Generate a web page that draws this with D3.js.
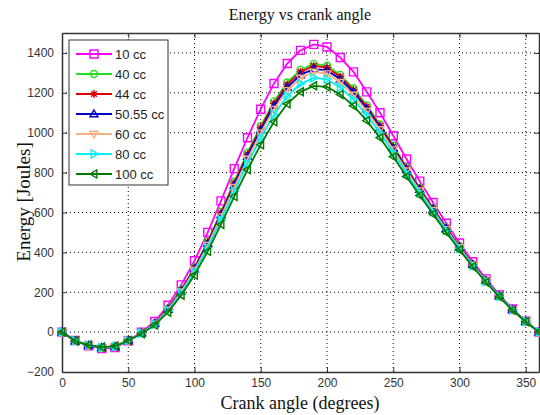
<!DOCTYPE html>
<html><head><meta charset="utf-8">
<script src="https://cdn.jsdelivr.net/npm/d3@7"></script>
<style>body{margin:0;background:#fff;}svg{display:block;}</style>
</head><body>
<script>
const angles = d3.range(0, 361, 10);
const xTicks = [0,50,100,150,200,250,300,350];
const yTicks = [-200,0,200,400,600,800,1000,1200,1400];
const seriesNames = ["10 cc","40 cc","44 cc","50.55 cc","60 cc","80 cc","100 cc"];
const s10 = [0,-42,-69,-83,-78,-44,0,53,135,237,358,500,658,820,975,1118,1247,1347,1413,1443,1430,1377,1305,1205,1100,985,868,757,650,546,447,353,267,187,116,55,0];
const s40 = [0,-43,-67,-79,-74,-43,-4,45,119,213,324,455,603,754,900,1034,1157,1252,1315,1345,1336,1290,1222,1137,1041,936,827,723,623,524,431,341,259,182,113,54,0];
const s44 = [0,-44,-67,-79,-74,-43,-4,44,117,210,321,451,597,747,892,1025,1147,1242,1305,1335,1326,1281,1214,1130,1035,930,822,720,620,522,429,340,258,182,113,53,0];
const s5055 = [0,-44,-67,-78,-73,-43,-5,42,114,206,316,444,588,737,881,1013,1134,1228,1290,1320,1312,1268,1203,1119,1026,923,816,715,616,519,426,338,257,181,112,53,0];
const s60 = [0,-44,-66,-78,-73,-43,-5,41,112,202,310,436,579,726,868,999,1118,1212,1274,1304,1296,1253,1189,1108,1016,915,809,709,611,515,424,336,256,180,112,53,0];
const s80 = [0,-44,-66,-77,-72,-42,-6,38,107,195,300,423,562,707,845,974,1091,1183,1245,1275,1268,1227,1166,1088,999,900,797,699,603,509,419,333,253,179,111,53,0];
const s100 = [0,-45,-65,-75,-70,-42,-8,35,100,185,286,405,540,680,815,940,1055,1145,1205,1235,1230,1192,1135,1060,975,880,780,685,592,500,412,328,250,177,110,52,0];
const seriesValues = [s10,s40,s44,s5055,s60,s80,s100];
const colors = ["#ff00ff","#22dd22","#dd0000","#0000cc","#f5b080","#00f0f0","#007a00"];
const markers = ["square","circle","star","triUp","triDown","triRight","triLeft"];

const W = 540, H = 415;
const m = {l:62, r:1, t:33, b:43};
const svg = d3.select("body").append("svg").attr("width", W).attr("height", H);
const x = d3.scaleLinear().domain([0,360]).range([m.l, W - m.r]);
const y = d3.scaleLinear().domain([-200,1500]).range([H - m.b, m.t]);

// grid
const g = svg.append("g");
g.selectAll(".gx").data(xTicks.filter(t=>t>0)).join("line")
  .attr("x1", d=>x(d)).attr("x2", d=>x(d)).attr("y1", y(-200)).attr("y2", y(1500))
  .attr("stroke","#000").attr("stroke-width",1).attr("stroke-dasharray","1,3");
g.selectAll(".gy").data(yTicks.filter(t=>t>-200)).join("line")
  .attr("y1", d=>y(d)).attr("y2", d=>y(d)).attr("x1", x(0)).attr("x2", x(360))
  .attr("stroke","#000").attr("stroke-width",1).attr("stroke-dasharray","1,3");

// axes
const fmt = d3.format("d");
const axB = svg.append("g").attr("transform",`translate(0,${y(-200)})`)
  .call(d3.axisBottom(x).tickValues(xTicks).tickFormat(fmt).tickSizeInner(-5).tickSizeOuter(0).tickPadding(6));
const axL = svg.append("g").attr("transform",`translate(${x(0)},0)`)
  .call(d3.axisLeft(y).tickValues(yTicks).tickFormat(fmt).tickSizeInner(-5).tickSizeOuter(0).tickPadding(8));
const axT = svg.append("g").attr("transform",`translate(0,${y(1500)})`)
  .call(d3.axisTop(x).tickValues(xTicks).tickSizeInner(-5).tickSizeOuter(0).tickFormat(""));
const axR = svg.append("g").attr("transform",`translate(${x(360)},0)`)
  .call(d3.axisRight(y).tickValues(yTicks).tickSizeInner(-5).tickSizeOuter(0).tickFormat(""));
[axB,axL,axT,axR].forEach(a=>{
  a.select(".domain").attr("stroke","#333").attr("stroke-width",1.5);
  a.selectAll(".tick line").attr("stroke","#333");
  a.selectAll("text").attr("font-family","Liberation Sans, Arial, sans-serif").attr("font-size",12).attr("fill","#333");
});

function markerPath(type, s){
  const h = s/2;
  switch(type){
    case "square": return `M${-h},${-h}H${h}V${h}H${-h}Z`;
    case "circle": return d3.symbol(d3.symbolCircle, s*s*0.6)();
    case "star": return `M${-h},0H${h}M0,${-h}V${h}M${-h*0.7},${-h*0.7}L${h*0.7},${h*0.7}M${-h*0.7},${h*0.7}L${h*0.7},${-h*0.7}`;
    case "triUp": return `M0,${-h}L${h},${h*0.7}L${-h},${h*0.7}Z`;
    case "triDown": return `M0,${h}L${h},${-h*0.7}L${-h},${-h*0.7}Z`;
    case "triRight": return `M${h},0L${-h*0.7},${h}L${-h*0.7},${-h}Z`;
    case "triLeft": return `M${-h},0L${h*0.7},${h}L${h*0.7},${-h}Z`;
  }
}

const line = d3.line().x((d,i)=>x(angles[i])).y(d=>y(d));
const plot = svg.append("g");
seriesValues.forEach((vals, si)=>{
  const sg = plot.append("g");
  sg.append("path").datum(vals).attr("d", line).attr("fill","none")
    .attr("stroke", colors[si]).attr("stroke-width",1.8);
  sg.selectAll("path.mk").data(vals).join("path").attr("class","mk")
    .attr("transform",(d,i)=>`translate(${x(angles[i])},${y(d)})`)
    .attr("d", markerPath(markers[si], 8))
    .attr("fill","none").attr("stroke", colors[si]).attr("stroke-width",1.4);
});

// legend
const lg = svg.append("g").attr("transform","translate(69,40)");
lg.append("rect").attr("width",99).attr("height",145).attr("fill","#fff").attr("stroke","#333").attr("stroke-width",1);
seriesNames.forEach((n,i)=>{
  const yy = 14 + i*20;
  lg.append("line").attr("x1",7).attr("x2",43).attr("y1",yy).attr("y2",yy).attr("stroke",colors[i]).attr("stroke-width",1.8);
  lg.append("path").attr("transform",`translate(25,${yy})`).attr("d",markerPath(markers[i],8))
    .attr("fill","none").attr("stroke",colors[i]).attr("stroke-width",1.4);
  lg.append("text").attr("x",46).attr("y",yy+4.5).text(n)
    .attr("font-family","Liberation Sans, Arial, sans-serif").attr("font-size",13).attr("fill","#222");
});

// titles
svg.append("text").attr("x",300).attr("y",20).attr("text-anchor","middle")
  .attr("font-family","Liberation Serif, Times New Roman, serif").attr("font-size",16).attr("fill","#111")
  .text("Energy vs crank angle");
svg.append("text").attr("x",300).attr("y",409).attr("text-anchor","middle")
  .attr("font-family","Liberation Serif, Times New Roman, serif").attr("font-size",18).attr("fill","#111")
  .text("Crank angle (degrees)");
svg.append("text").attr("transform","translate(30,202) rotate(-90)").attr("text-anchor","middle")
  .attr("font-family","Liberation Serif, Times New Roman, serif").attr("font-size",19).attr("fill","#111")
  .text("Energy [Joules]");
</script>
</body></html>
